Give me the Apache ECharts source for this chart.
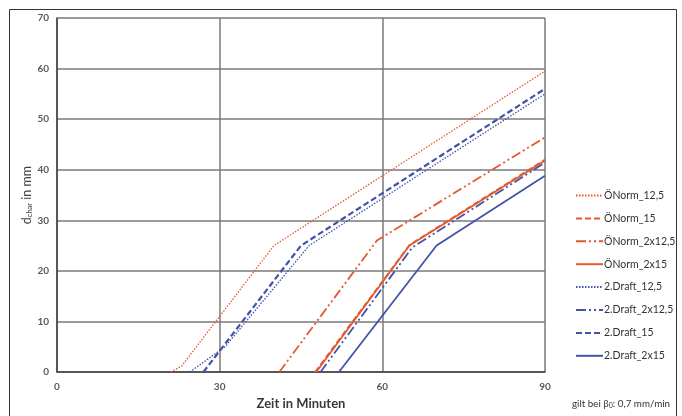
<!DOCTYPE html>
<html><head><meta charset="utf-8">
<script src="https://cdn.jsdelivr.net/npm/echarts@6/dist/echarts.min.js"></script>
<style>html,body{margin:0;padding:0;background:#fff}#c{width:682px;height:416px}</style>
</head><body><div id="c"></div>
<script>
const xTicks = [0, 30, 60, 90];
const yTicks = [0, 10, 20, 30, 40, 50, 60, 70];
const seriesNames = ['ÖNorm_12,5','ÖNorm_15','ÖNorm_2x12,5','ÖNorm_2x15','2.Draft_12,5','2.Draft_2x12,5','2.Draft_15','2.Draft_2x15'];
const oNorm125   = [[21,0],[23,1.2],[40,25],[90,59.5]];
const oNorm15    = [[47.6,0],[65,25.1],[90,42]];
const oNorm2x125 = [[41,0],[59,26],[90,46.4]];
const oNorm2x15  = [[47.8,0],[65,25],[90,41.8]];
const draft125   = [[24.5,0],[31,5],[46.5,25],[90,55]];
const draft2x125 = [[48.6,0],[65.5,24.6],[90,41.4]];
const draft15    = [[27,0],[45,25],[90,56]];
const draft2x15  = [[52,0],[70,25],[90,38.8]];

const ORANGE = '#E6582C', BLUE = '#4253A8';
const styles = [
  {c:ORANGE, w:1.3, t:[1.5,1.5]},
  {c:ORANGE, w:1.8, t:[6,3]},
  {c:ORANGE, w:1.8, t:[10,3,2,3,2,3]},
  {c:ORANGE, w:1.8, t:'solid'},
  {c:BLUE, w:1.3, t:[1.5,1.5]},
  {c:BLUE, w:1.8, t:[10,3,2,3,2,3]},
  {c:BLUE, w:2.2, t:[6,3]},
  {c:BLUE, w:1.8, t:'solid'}
];
const datas = [oNorm125, oNorm15, oNorm2x125, oNorm2x15, draft125, draft2x125, draft15, draft2x15];
const FONT = 'Lato';
const chart = echarts.init(document.getElementById('c'));
chart.setOption({
  animation:false,
  textStyle:{fontFamily:FONT},
  grid:{left:57, right:137, top:18, bottom:44},
  xAxis:{type:'value', min:0, max:90, interval:30,
    axisLine:{show:true, lineStyle:{color:'#404040', width:1.5}},
    axisTick:{show:false},
    axisLabel:{color:'#595959', fontSize:10, fontWeight:'bold', margin:10},
    splitLine:{show:true, lineStyle:{color:'#7a7a7a', width:1.5}},
    name:'Zeit in Minuten', nameLocation:'middle', nameGap:20,
    nameTextStyle:{color:'#3a3a3a', fontSize:13, fontWeight:'bold', fontFamily:FONT}
  },
  yAxis:{type:'value', min:0, max:70, interval:10,
    axisLine:{show:true, lineStyle:{color:'#404040', width:1.5}},
    axisTick:{show:false},
    axisLabel:{color:'#595959', fontSize:10, fontWeight:'bold', margin:8},
    splitLine:{show:true, lineStyle:{color:'#7a7a7a', width:1.5}}
  },
  legend:{orient:'vertical', left:575, top:190, padding:0, itemWidth:27, itemHeight:12, itemGap:11.9,
    itemStyle:{opacity:0},
    textStyle:{color:'#333', fontSize:10.5, fontFamily:FONT, padding:[0,0,0,-4]},
    data:seriesNames
  },
  series: datas.map((d,i)=>({
    name:seriesNames[i], type:'line', data:d, symbol:'none', showSymbol:false,
    lineStyle:{color:styles[i].c, width:styles[i].w, type:styles[i].t},
    itemStyle:{color:styles[i].c},
    z: 3
  })),
  graphic:[
    {type:'rect', shape:{x:9.5, y:9.5, width:667, height:430}, style:{fill:'none', stroke:'#333', lineWidth:1}, silent:true},
    {type:'text', left:20, top:166, rotation:Math.PI/2, style:{
      text:'{a|d}{s|char}{a| in mm}', rich:{a:{fontSize:12.5, fill:'#404040', fontFamily:FONT}, s:{fontSize:7.5, fill:'#404040', fontFamily:FONT, padding:[6,0,0,0]}}
    }},
    {type:'text', left:572, top:399, style:{
      text:'{a|gilt bei β}{s|0}{a|: 0,7 mm/min}', rich:{a:{fontSize:9.8, fill:'#333', fontFamily:FONT}, s:{fontSize:7, fill:'#333', fontFamily:FONT, padding:[4,0,0,0]}}
    }}
  ]
});
</script></body></html>
